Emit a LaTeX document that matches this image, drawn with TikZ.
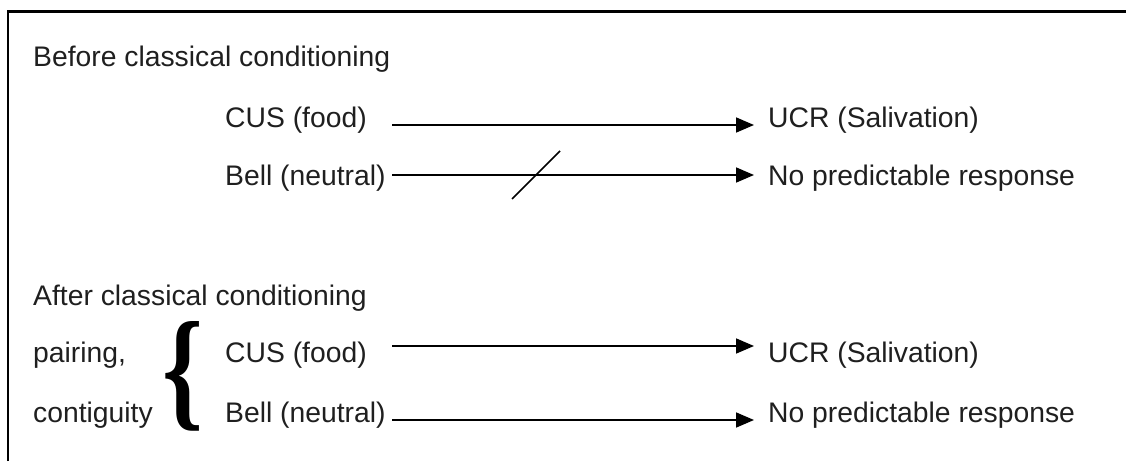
\documentclass[tikz,border=0pt]{standalone}
\usepackage{fontspec}
\setmainfont{Liberation Sans}
\newfontfamily\bracefont{Liberation Serif}
\usetikzlibrary{arrows.meta}
\begin{document}
\begin{tikzpicture}[x=1pt,y=-1pt,
  lbl/.style={anchor=base west,inner sep=0pt,font=\fontsize{28.3}{34}\selectfont,text=black!88},
  arr/.style={line width=1.7pt,-{Triangle[length=18pt,width=15pt]}},
  frameline/.style={line width=2.2pt},
  cross/.style={line width=1.6pt}]
\useasboundingbox (0,0) rectangle (1126,461);
\draw[frameline] (8,461) -- (8,11.5) -- (1126,11.5);

\node[lbl] (before) at (33,66) {Before classical conditioning};
\node[lbl] (c1) at (225,127) {CUS (food)};
\node[lbl] (u1) at (768,127) {UCR (Salivation)};
\node[lbl] (b2) at (225,185) {Bell (neutral)};
\node[lbl] (n2) at (768,185) {No predictable response};

\node[lbl] (after) at (33,305) {After classical conditioning};
\node[lbl] (pair) at (33,362) {pairing,};
\node[lbl] (cont) at (33,422) {contiguity};
\node[lbl] (c3) at (225,362) {CUS (food)};
\node[lbl] (u3) at (768,362) {UCR (Salivation)};
\node[lbl] (b4) at (225,422) {Bell (neutral)};
\node[lbl] (n4) at (768,422) {No predictable response};

\node[inner sep=0pt] (brace) at (183,376) {\scalebox{0.8}[1.02]{\bracefont\bfseries\fontsize{130}{130}\selectfont\{}};

\coordinate (s1) at (392,125);
\coordinate (s2) at (392,175);
\coordinate (s3) at (392,346);
\coordinate (s4) at (392,420);
\draw[arr] (s1) -- ([xshift=-14pt]s1 -| u1.west);
\draw[arr] (s2) -- ([xshift=-14pt]s2 -| n2.west);
\draw[arr] (s3) -- ([xshift=-14pt]s3 -| u3.west);
\draw[arr] (s4) -- ([xshift=-14pt]s4 -| n4.west);
\coordinate (x1) at (512,199);
\coordinate (x2) at (560,151);
\draw[cross] (x1) -- (x2);
\end{tikzpicture}
\end{document}
